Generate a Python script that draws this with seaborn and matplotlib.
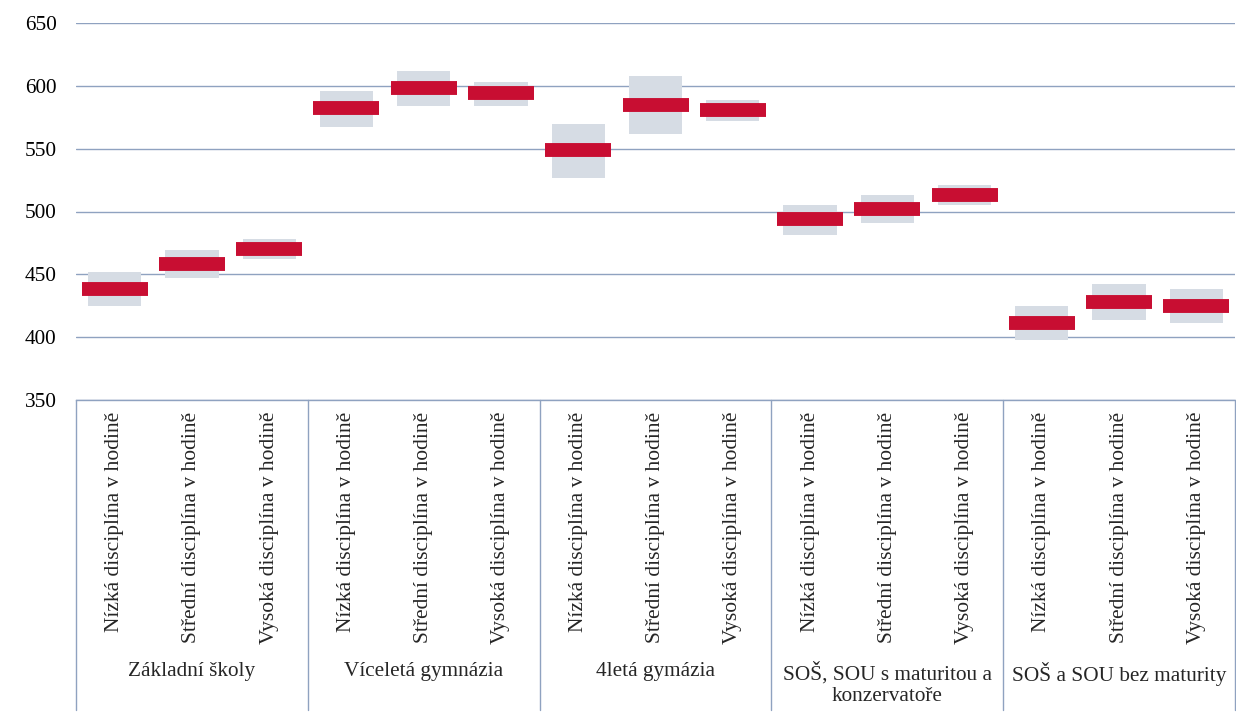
import numpy as np
import pandas as pd
import matplotlib.pyplot as plt
import seaborn as sns
from matplotlib.transforms import blended_transform_factory

groups = ['Základní školy', 'Víceletá gymnázia', '4letá gymázia',
          'SOŠ, SOU s maturitou a\nkonzervatoře', 'SOŠ a SOU bez maturity']
levels = ['Nízká disciplína v hodině', 'Střední disciplína v hodině', 'Vysoká disciplína v hodině']

means = [438, 458, 470, 582, 598, 594, 549, 585, 581, 494, 502, 513, 411, 428, 425]
upper = [452, 469, 478, 596, 612, 603, 570, 608, 589, 505, 513, 521, 425, 442, 438]
lower = [425, 447, 462, 567, 584, 584, 527, 562, 572, 481, 491, 505, 398, 414, 411]

GREY = '#D6DCE4'
RED = '#C80E32'
LINE = '#8FA2C0'

sns.set_style('white')
plt.rcParams['font.family'] = ['Liberation Serif', 'DejaVu Serif']

df = pd.DataFrame({
    'cat': [f'{g}|{l}' for g in groups for l in levels],
    'mean': means,
    'low': lower,
    'high': upper,
})
df['span'] = df['high'] - df['low']

fig, ax = plt.subplots(figsize=(12.36, 7.18), dpi=100)
fig.subplots_adjust(left=76 / 1236, right=1235 / 1236, top=1 - 23 / 718, bottom=1 - 400 / 718)

# grey range boxes
sns.barplot(data=df, x='cat', y='span', bottom=df['low'].values, width=0.69,
            color=GREY, saturation=1, errorbar=None, linewidth=0, ax=ax)
# red mean markers
sns.pointplot(data=df, x='cat', y='mean', color=RED, marker='_', linestyle='none',
              markersize=48, markeredgewidth=10, errorbar=None, ax=ax)

ax.set_xlim(-0.5, 14.5)
ax.set_ylim(350, 650)
ax.set_yticks(range(350, 651, 50))
ax.set_xticks([])
ax.set_xlabel('')
ax.set_ylabel('')
ax.yaxis.grid(True, color=LINE, linewidth=1)
ax.set_axisbelow(True)
for s in ['top', 'left', 'right']:
    ax.spines[s].set_visible(False)
ax.spines['bottom'].set_color(LINE)
ax.spines['bottom'].set_linewidth(1)
ax.tick_params(axis='y', length=0, labelsize=15.3, pad=14, colors='black')

trans = blended_transform_factory(ax.transData, fig.transFigure)
for i in range(len(df)):
    ax.text(i, 1 - 412 / 718, levels[i % 3], rotation=90, ha='center', va='top',
            fontsize=15.5, transform=trans)
for g, name in enumerate(groups):
    ax.text(3 * g + 1, 1 - 662 / 718, name, ha='center', va='top', fontsize=15.3,
            linespacing=1.15, transform=trans)
for xv in [-0.5, 2.5, 5.5, 8.5, 11.5, 14.5]:
    ax.plot([xv, xv], [1 - 400 / 718, 1 - 710 / 718], color=LINE, linewidth=1,
            transform=trans, clip_on=False)

fig.savefig('out.png', dpi=100)
